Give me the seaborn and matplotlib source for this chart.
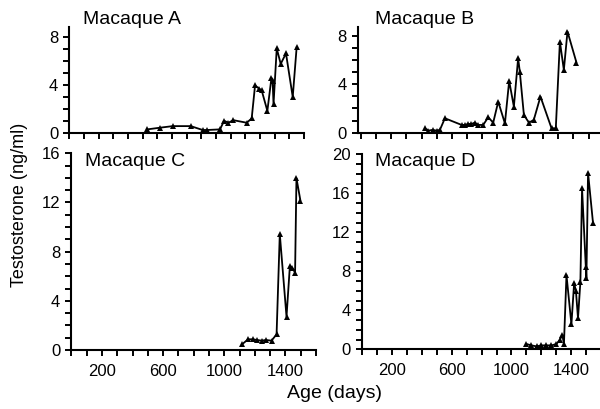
import matplotlib
matplotlib.use("Agg")
import matplotlib.pyplot as plt
import seaborn as sns
from matplotlib.ticker import MultipleLocator, FixedLocator

# testosterone (ng/ml) against age (days)
age_a = [531, 618, 705, 827, 909, 941, 1027, 1055, 1084, 1118, 1209, 1243, 1266,
         1295, 1311, 1350, 1378, 1386, 1392, 1414, 1441, 1477, 1523, 1550]
testo_a = [0.34, 0.48, 0.61, 0.61, 0.29, 0.29, 0.34, 1.05, 0.89, 1.1, 0.89, 1.24, 3.97,
           3.7, 3.57, 1.87, 4.6, 4.3, 2.42, 7.03, 5.75, 6.62, 3.02, 7.17]

age_b = [422, 444, 473, 499, 521, 554, 664, 686, 707, 729, 751, 773, 806, 839, 872,
         905, 949, 977, 1008, 1036, 1047, 1074, 1107, 1139, 1183, 1256, 1284, 1311,
         1337, 1361, 1420]
testo_b = [0.36, 0.17, 0.23, 0.17, 0.23, 1.19, 0.64, 0.64, 0.72, 0.72, 0.83, 0.64, 0.64,
           1.27, 0.83, 2.56, 0.77, 4.27, 2.15, 6.15, 5.04, 1.46, 0.83, 1.05, 2.98, 0.36,
           0.36, 7.52, 5.18, 8.35, 5.79]

age_c = [1119, 1156, 1185, 1215, 1244, 1272, 1309, 1342, 1363, 1407, 1429, 1446,
         1463, 1472, 1498]
testo_c = [0.49, 0.87, 0.87, 0.81, 0.76, 0.81, 0.76, 1.27, 9.44, 2.71, 6.83, 6.65,
           6.29, 13.97, 12.15]

age_d = [1100, 1133, 1167, 1200, 1233, 1267, 1300, 1322, 1340, 1350, 1367, 1400,
         1418, 1430, 1444, 1460, 1471, 1496, 1500, 1511, 1544]
testo_d = [0.54, 0.4, 0.3, 0.4, 0.4, 0.4, 0.54, 0.96, 1.47, 0.5, 7.62, 2.56,
           6.77, 6.0, 3.18, 6.94, 16.5, 8.47, 7.28, 18.1, 12.98]

names = ["Macaque A", "Macaque B", "Macaque C", "Macaque D"]

sns.set_style("ticks")
plt.rcParams["font.family"] = ["Liberation Sans", "DejaVu Sans"]
plt.rcParams["text.color"] = "black"
plt.rcParams["xtick.color"] = "black"
plt.rcParams["ytick.color"] = "black"

fig = plt.figure(figsize=(6, 4.09), dpi=100)

# panel boxes (figure fractions), x range, y range, y tick labels
panels = [
    ([0.1157, 0.6736, 0.391, 0.2604], (0, 1600), (0, 8.8), [0, 4, 8], False),
    ([0.5967, 0.6756, 0.4033, 0.2577], (-18, 1575), (0, 8.7), [0, 4, 8], False),
    ([0.119, 0.1443, 0.4077, 0.481], (0, 1600), (0, 16), [0, 4, 8, 12, 16], True),
    ([0.6028, 0.146, 0.397, 0.4768], (0, 1590), (0, 20), [0, 4, 8, 12, 16, 20], True),
]
series = [(age_a, testo_a), (age_b, testo_b), (age_c, testo_c), (age_d, testo_d)]
title_pos = [(83, 20), (375, 19.5), (85, 161.5), (375, 161)]

for (box, xl, yl, yt, xlab), (xs, ys), name, (tx, ty) in zip(panels, series, names, title_pos):
    ax = fig.add_axes(box)
    sns.lineplot(x=xs, y=ys, ax=ax, color="black", lw=1.3, marker="^",
                 markersize=5, markeredgewidth=0, sort=False, estimator=None)
    ax.set_xlim(*xl)
    ax.set_ylim(*yl)
    ax.xaxis.set_major_locator(FixedLocator([200, 600, 1000, 1400]))
    ax.xaxis.set_minor_locator(MultipleLocator(100))
    ax.yaxis.set_major_locator(FixedLocator(yt))
    ax.yaxis.set_minor_locator(MultipleLocator(1))
    ax.tick_params(which="both", direction="out", length=4, width=1.4, color="black",
                   labelsize=12, labelcolor="black")
    ax.tick_params(axis="x", pad=6)
    ax.tick_params(axis="y", pad=4)
    if not xlab:
        ax.set_xticklabels([])
    for s in ["left", "bottom"]:
        ax.spines[s].set_linewidth(1.5)
        ax.spines[s].set_color("black")
    sns.despine(ax=ax)
    ax.patch.set_alpha(0)
    fig.text(tx / 600, 1 - ty / 409, name, fontsize=14, va="center", ha="left",
             color="black")

fig.text(0.033, 0.499, "Testosterone (ng/ml)", rotation=90, fontsize=13,
         va="center", ha="center", color="black")
fig.text(0.558, 0.039, "Age (days)", fontsize=14, va="center", ha="center",
         color="black")

fig.savefig("out.png", dpi=100)
